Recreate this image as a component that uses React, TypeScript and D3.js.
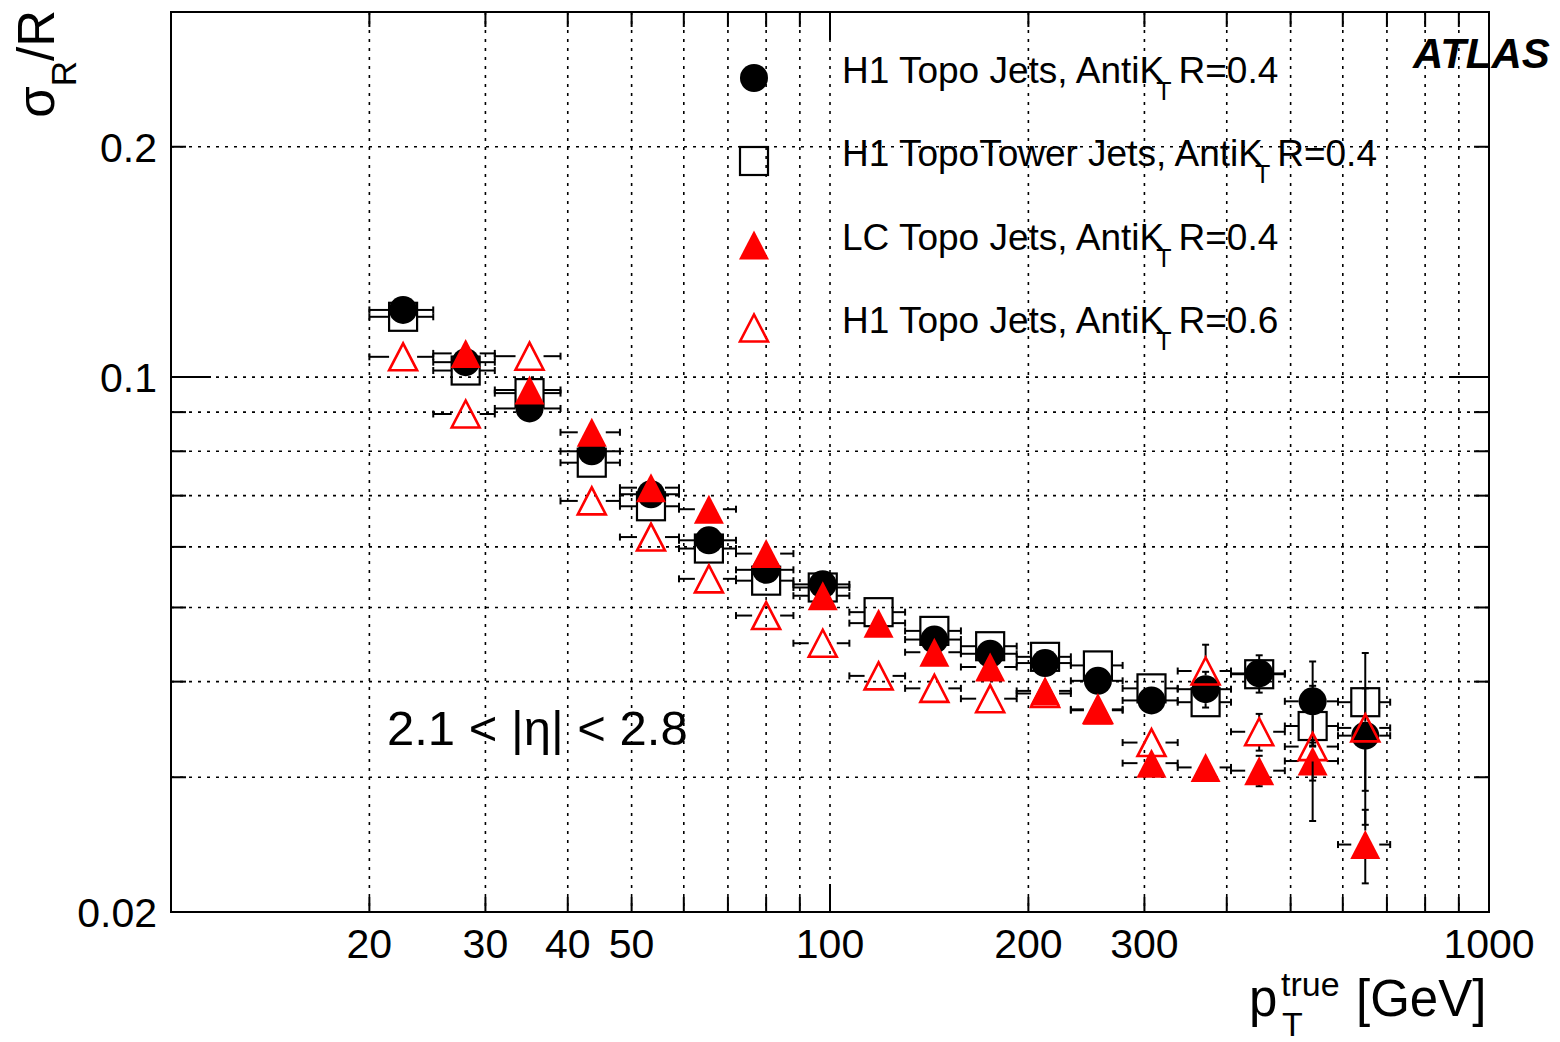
import React from 'react';
import * as d3 from 'd3';

const W = 1560;
const H = 1042;
const FRAME = { left: 171, right: 1489, top: 12, bottom: 912 };
const FONT = "'Liberation Sans', Arial, Helvetica, sans-serif";

// pT bins [GeV]
const binLow = [20, 25, 31, 39, 48, 59, 72, 88, 107, 130, 158, 192, 232, 278, 337, 406, 490, 590];
const binHigh = [25, 31, 39, 48, 59, 72, 88, 107, 130, 158, 192, 232, 278, 337, 406, 490, 590, 708];
const ptCenter = [22.5, 28, 35, 43.5, 53.5, 65.5, 80, 97.5, 118.5, 144, 175, 212, 255, 307.5, 371.5, 448, 540, 649];

// sigma_R / R values
const h1TopoR04 = [0.1224, 0.1046, 0.091, 0.08, 0.0703, 0.0612, 0.056, 0.0536, null, 0.0454, 0.0435, 0.0423, 0.0401, 0.0378, 0.0391, 0.041, 0.0377, 0.034];
const h1TopoR04Err = [0.001, 0.001, 0.001, 0.001, 0.001, 0.001, 0.001, 0.001, 0.001, 0.001, 0.001, 0.001, 0.001, 0.001, 0.0021, 0.0023, 0.0048, 0.0052];

const h1TowerR04 = [0.1199, 0.102, 0.0953, 0.0773, 0.0678, 0.0597, 0.0542, 0.0531, 0.0493, 0.0466, 0.0445, 0.0431, 0.042, 0.0392, 0.0376, 0.0409, 0.035, 0.0376];
const h1TowerR04Err = [0.001, 0.001, 0.001, 0.001, 0.001, 0.001, 0.001, 0.001, 0.001, 0.001, 0.001, 0.001, 0.001, 0.001, 0.001, 0.001, 0.002, 0.0015];

const lcTopoR04 = [null, 0.1074, 0.0962, 0.0847, 0.0717, 0.0672, 0.0588, 0.0518, 0.0477, 0.0437, 0.0418, 0.0389, 0.0367, 0.0313, 0.0309, 0.0306, 0.0315, 0.0245];
const lcTopoR04Err = [0.001, 0.001, 0.001, 0.001, 0.001, 0.001, 0.001, 0.001, 0.001, 0.001, 0.001, 0.001, 0.001, 0.001, 0.001, 0.0014, 0.0018, 0.0027];

const h1TopoR06 = [0.1063, 0.0895, 0.1065, 0.0689, 0.0618, 0.0545, 0.0488, 0.0449, 0.0407, 0.0392, 0.038, 0.0386, 0.0368, 0.0333, 0.0413, 0.0344, 0.0329, 0.0348];
const h1TopoR06Err = [0.001, 0.001, 0.001, 0.001, 0.001, 0.001, 0.001, 0.001, 0.001, 0.001, 0.001, 0.001, 0.001, 0.001, 0.0034, 0.0019, 0.0066, 0.0088];

const seriesNames = [
  'H1 Topo Jets, AntiK',
  'H1 TopoTower Jets, AntiK',
  'LC Topo Jets, AntiK',
  'H1 Topo Jets, AntiK',
];
const seriesRadius = ['R=0.4', 'R=0.4', 'R=0.4', 'R=0.6'];

// ticks / grid
const xGrid = [20, 30, 40, 50, 60, 70, 80, 90, 100, 200, 300, 400, 500, 600, 700, 800, 900];
const xMajor = [100];
const xLabels = [20, 30, 40, 50, 100, 200, 300, 1000];
const yGrid = [0.03, 0.04, 0.05, 0.06, 0.07, 0.08, 0.09, 0.1, 0.2];
const yMajor = [0.1];
const yLabels = [0.02, 0.1, 0.2];

type Marker = 'square' | 'circle' | 'triUp' | 'openTri';

const x = d3.scaleLog().domain([10, 1000]).range([FRAME.left, FRAME.right]);
const y = d3.scaleLog().domain([0.02, 0.3]).range([FRAME.bottom, FRAME.top]);

function MarkerShape({ type, cx, cy }: { type: Marker; cx: number; cy: number }) {
  if (type === 'circle') return <circle cx={cx} cy={cy} r={14} fill="#000" />;
  if (type === 'square')
    return <rect x={cx - 14} y={cy - 14} width={28} height={28} fill="none" stroke="#000" strokeWidth={2.2} />;
  const pts = `${cx},${cy - 14.5} ${cx - 15},${cy + 14.5} ${cx + 15},${cy + 14.5}`;
  if (type === 'triUp') return <polygon points={pts} fill="#ff0000" />;
  const ptsO = `${cx},${cy - 13.5} ${cx - 14},${cy + 13.5} ${cx + 14},${cy + 13.5}`;
  return <polygon points={ptsO} fill="none" stroke="#ff0000" strokeWidth={2.6} />;
}

function ErrorBars({ vals, errs }: { vals: (number | null)[]; errs: number[] }) {
  const gap = 14;
  const cap = 3.5;
  const out: React.ReactNode[] = [];
  vals.forEach((v, i) => {
    if (v == null) return;
    const cx = x(ptCenter[i]);
    const cy = y(v);
    const xl = x(binLow[i]);
    const xh = x(binHigh[i]);
    const segs: [number, number, number, number][] = [];
    if (cx - gap > xl) segs.push([xl, cy, cx - gap, cy], [xl, cy - cap, xl, cy + cap]);
    if (xh > cx + gap) segs.push([cx + gap, cy, xh, cy], [xh, cy - cap, xh, cy + cap]);
    const yt = y(v + errs[i]);
    const yb = y(Math.max(v - errs[i], 0.0001));
    if (cy - yt > gap) segs.push([cx, cy - gap, cx, yt], [cx - cap, yt, cx + cap, yt]);
    if (yb - cy > gap) segs.push([cx, cy + gap, cx, yb], [cx - cap, yb, cx + cap, yb]);
    segs.forEach((s, k) =>
      out.push(<line key={`${i}-${k}`} x1={s[0]} y1={s[1]} x2={s[2]} y2={s[3]} stroke="#000" strokeWidth={2} />)
    );
  });
  return <g>{out}</g>;
}

export default function App() {
  const series: { vals: (number | null)[]; errs: number[]; marker: Marker }[] = [
    { vals: h1TowerR04, errs: h1TowerR04Err, marker: 'square' },
    { vals: h1TopoR04, errs: h1TopoR04Err, marker: 'circle' },
    { vals: lcTopoR04, errs: lcTopoR04Err, marker: 'triUp' },
    { vals: h1TopoR06, errs: h1TopoR06Err, marker: 'openTri' },
  ];
  const legendMarkers: Marker[] = ['circle', 'square', 'triUp', 'openTri'];
  const legendY = [78, 161, 245, 328];

  return (
    <svg
      width={W}
      height={H}
      viewBox={`0 0 ${W} ${H}`}
      style={{ position: 'absolute', left: 0, top: 0, background: '#fff' }}
      fontFamily={FONT}
    >
      <rect x={0} y={0} width={W} height={H} fill="#fff" />
      {/* grid */}
      <g stroke="#000" strokeWidth={1.6} strokeDasharray="3 6">
        {xGrid.map((v) => (
          <line key={`gx${v}`} x1={x(v)} x2={x(v)} y1={FRAME.top} y2={FRAME.bottom} />
        ))}
        {yGrid.map((v) => (
          <line key={`gy${v}`} x1={FRAME.left} x2={FRAME.right} y1={y(v)} y2={y(v)} />
        ))}
      </g>
      {/* ticks */}
      <g stroke="#000" strokeWidth={2}>
        {xGrid.map((v) => {
          const len = xMajor.includes(v) ? 28 : 15;
          return (
            <g key={`tx${v}`}>
              <line x1={x(v)} x2={x(v)} y1={FRAME.bottom} y2={FRAME.bottom - len} />
              <line x1={x(v)} x2={x(v)} y1={FRAME.top} y2={FRAME.top + len} />
            </g>
          );
        })}
        {yGrid.map((v) => {
          const len = yMajor.includes(v) ? 40 : 15;
          return (
            <g key={`ty${v}`}>
              <line x1={FRAME.left} x2={FRAME.left + len} y1={y(v)} y2={y(v)} />
              <line x1={FRAME.right} x2={FRAME.right - len} y1={y(v)} y2={y(v)} />
            </g>
          );
        })}
      </g>
      {/* tick labels */}
      <g fontSize={41} fill="#000">
        {xLabels.map((v) => (
          <text key={`lx${v}`} x={x(v)} y={958} textAnchor="middle">
            {v}
          </text>
        ))}
        {yLabels.map((v) => (
          <text key={`ly${v}`} x={157} y={y(v) + 15} textAnchor="end">
            {v}
          </text>
        ))}
      </g>
      {/* data */}
      {series.map((s, si) => (
        <g key={`s${si}`}>
          <ErrorBars vals={s.vals} errs={s.errs} />
          {s.vals.map((v, i) =>
            v == null ? null : <MarkerShape key={i} type={s.marker} cx={x(ptCenter[i])} cy={y(v)} />
          )}
        </g>
      ))}
      {/* frame */}
      <rect
        x={FRAME.left}
        y={FRAME.top}
        width={FRAME.right - FRAME.left}
        height={FRAME.bottom - FRAME.top}
        fill="none"
        stroke="#000"
        strokeWidth={2}
      />
      {/* legend */}
      {legendMarkers.map((m, i) => (
        <g key={`lg${i}`}>
          <MarkerShape type={m} cx={754} cy={legendY[i]} />
          <text x={842} y={legendY[i] + 4.5} fontSize={37} fill="#000">
            {seriesNames[i]}
            <tspan dx={-8} dy={17} fontSize={25}>
              T
            </tspan>
            <tspan dx={7} dy={-17} fontSize={37}>
              {seriesRadius[i]}
            </tspan>
          </text>
        </g>
      ))}
      {/* ATLAS */}
      <text x={1413} y={68} fontSize={42} fontWeight="bold" fontStyle="italic" fill="#000">
        ATLAS
      </text>
      {/* eta range */}
      <text x={387} y={745} fontSize={49} fill="#000">
        2.1 &lt; |η| &lt; 2.8
      </text>
      {/* x title */}
      <g fontSize={51} fill="#000">
        <text x={1249} y={1016}>p</text>
        <text x={1282} y={1036} fontSize={34}>T</text>
        <text x={1281} y={996} fontSize={34}>true</text>
        <text x={1356} y={1016}>[GeV]</text>
      </g>
      {/* y title */}
      <text transform="translate(54,10) rotate(-90)" textAnchor="end" fontSize={51} fill="#000">
        σ
        <tspan dy={22} fontSize={35}>
          R
        </tspan>
        <tspan dy={-22} fontSize={51}>
          /R
        </tspan>
      </text>
    </svg>
  );
}
